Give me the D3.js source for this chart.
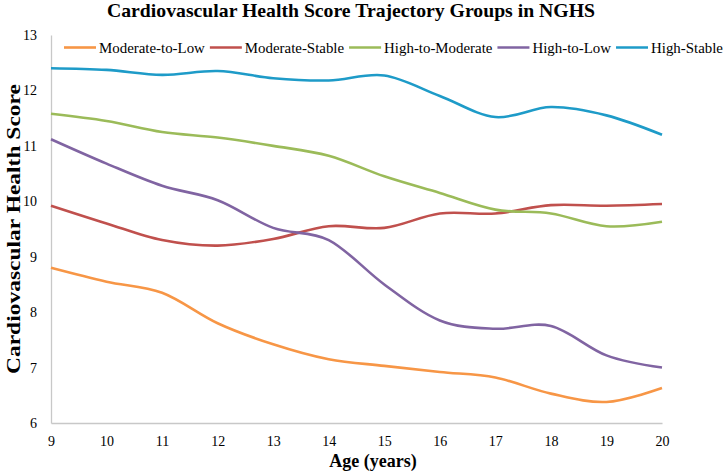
<!DOCTYPE html>
<html><head><meta charset="utf-8">
<script src="https://cdn.jsdelivr.net/npm/d3@7"></script>
<style>body{margin:0;background:#fff}svg{display:block}text{font-family:"Liberation Serif","DejaVu Serif",serif}</style>
</head><body><svg id="c" width="727" height="472"></svg>
<script>
const ages = [9,10,11,12,13,14,15,16,17,18,19,20];
const yTicks = [6,7,8,9,10,11,12,13];
const seriesNames = ["Moderate-to-Low","Moderate-Stable","High-to-Moderate","High-to-Low","High-Stable"];
const seriesColors = ["#F79646","#C0504D","#9BBB59","#8064A2","#1E9BC8"];
const moderateToLow = [8.80,8.55,8.35,7.80,7.42,7.15,7.03,6.92,6.82,6.53,6.38,6.63];
const moderateStable = [9.92,9.60,9.30,9.20,9.32,9.55,9.52,9.78,9.78,9.93,9.92,9.95];
const highToModerate = [11.58,11.45,11.25,11.15,11.00,10.82,10.45,10.15,9.85,9.78,9.55,9.63];
const highToLow = [11.12,10.68,10.28,10.02,9.52,9.30,8.50,7.85,7.70,7.75,7.22,7.00];
const highStable = [12.40,12.37,12.28,12.35,12.22,12.18,12.27,11.90,11.52,11.70,11.55,11.20];
const seriesValues = [moderateToLow, moderateStable, highToModerate, highToLow, highStable];

const svg = d3.select("#c");
const L=51, R=662, T=35, B=423;
const x = d3.scaleLinear().domain([9,20]).range([L,R]);
const y = d3.scaleLinear().domain([6,13]).range([B,T]);

svg.append("text").attr("x",351).attr("y",17).attr("text-anchor","middle")
  .attr("font-size",19).attr("font-weight","bold")
  .attr("textLength",488).attr("lengthAdjust","spacingAndGlyphs")
  .text("Cardiovascular Health Score Trajectory Groups in NGHS");

// axes
const xa = svg.append("g").attr("transform",`translate(0,${B})`)
  .call(d3.axisBottom(x).tickValues(ages).tickSize(0).tickPadding(13).tickFormat(d3.format("d")));
xa.select(".domain").attr("stroke","#c8c8c8").attr("stroke-width",1.3);
xa.selectAll("text").attr("font-size",14).attr("fill","#000").style("font-family","Liberation Serif");
const ya = svg.append("g").attr("transform",`translate(${L},0)`)
  .call(d3.axisLeft(y).tickValues(yTicks).tickSize(0).tickPadding(14).tickFormat(d3.format("d")));
ya.select(".domain").attr("stroke","#c8c8c8").attr("stroke-width",1.3);
ya.selectAll("text").attr("font-size",14).attr("fill","#000").style("font-family","Liberation Serif");

svg.append("text").attr("x",373).attr("y",467).attr("text-anchor","middle")
  .attr("font-size",18).attr("font-weight","bold").text("Age (years)");
svg.append("text").attr("transform","translate(20,229) rotate(-90)").attr("text-anchor","middle")
  .attr("font-size",19).attr("font-weight","bold")
  .attr("textLength",290).attr("lengthAdjust","spacingAndGlyphs")
  .text("Cardiovascular Health Score");

const line = d3.line().x((d,i)=>x(ages[i])).y(d=>y(d)).curve(d3.curveCatmullRom.alpha(0));
seriesValues.forEach((vals,k)=>{
  svg.append("path").datum(vals).attr("d",line).attr("fill","none")
    .attr("stroke",seriesColors[k]).attr("stroke-width",2.6);
});

// legend
const leg = svg.append("g");
let lx = 64;
seriesNames.forEach((n,k)=>{
  leg.append("line").attr("x1",lx).attr("x2",lx+32).attr("y1",47.5).attr("y2",47.5)
    .attr("stroke",seriesColors[k]).attr("stroke-width",2.6);
  const t = leg.append("text").attr("x",lx+35).attr("y",52.5).attr("font-size",14.9).text(n);
  lx += 35 + t.node().getComputedTextLength() + 5;
});
</script></body></html>
